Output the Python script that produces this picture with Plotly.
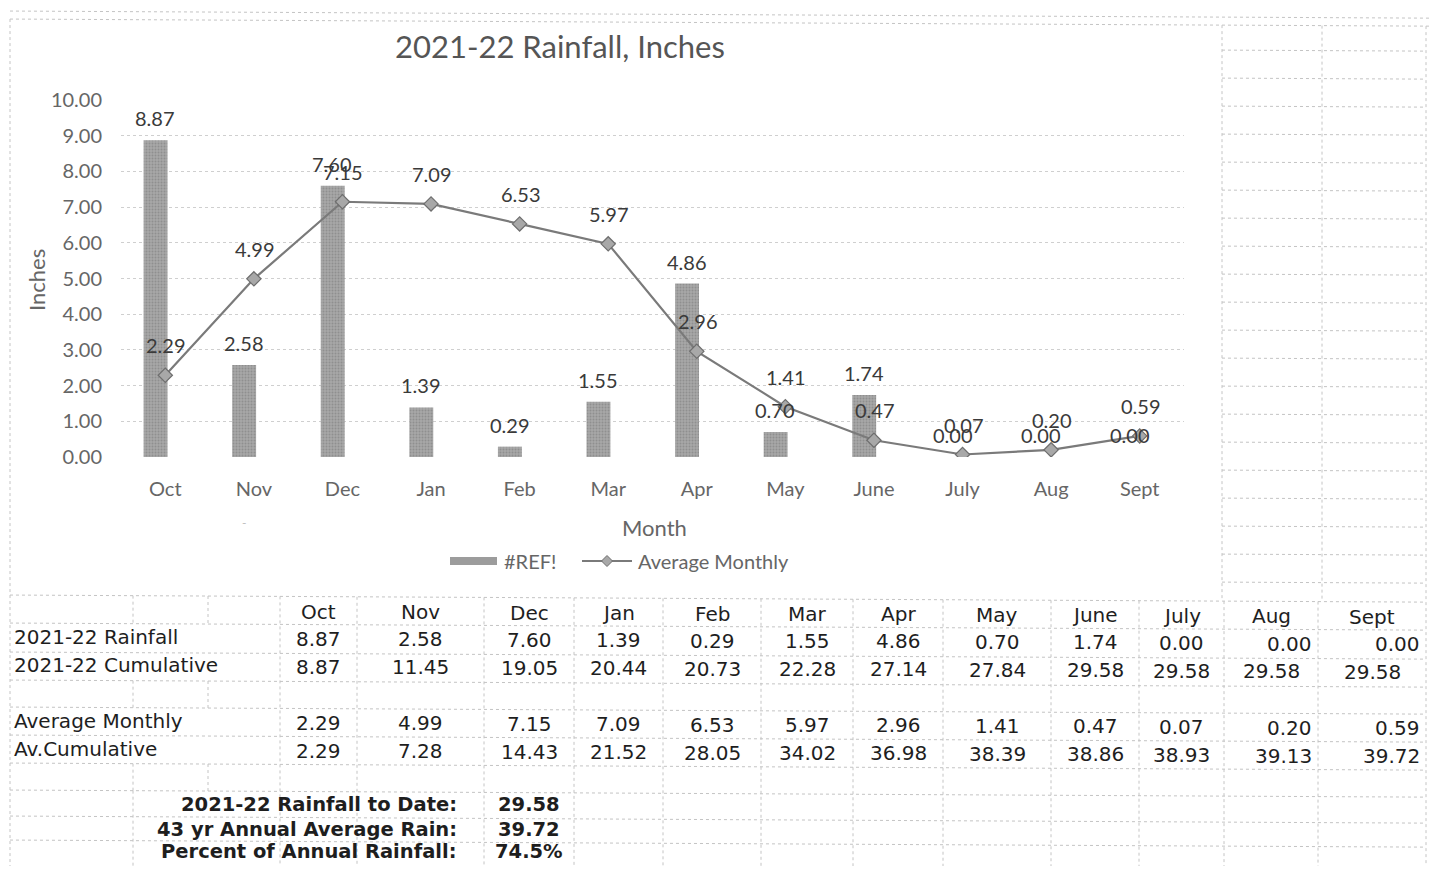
import plotly.graph_objects as go

# ---------------- data ----------------
months = ["Oct", "Nov", "Dec", "Jan", "Feb", "Mar", "Apr", "May", "June", "July", "Aug", "Sept"]
rain_2122 = [8.87, 2.58, 7.60, 1.39, 0.29, 1.55, 4.86, 0.70, 1.74, 0.00, 0.00, 0.00]
cum_2122 = [8.87, 11.45, 19.05, 20.44, 20.73, 22.28, 27.14, 27.84, 29.58, 29.58, 29.58, 29.58]
avg_monthly = [2.29, 4.99, 7.15, 7.09, 6.53, 5.97, 2.96, 1.41, 0.47, 0.07, 0.20, 0.59]
avg_cum = [2.29, 7.28, 14.43, 21.52, 28.05, 34.02, 36.98, 38.39, 38.86, 38.93, 39.13, 39.72]
y_ticks = [0, 1, 2, 3, 4, 5, 6, 7, 8, 9, 10]
row_labels = ["2021-22 Rainfall", "2021-22 Cumulative", "Average Monthly", "Av.Cumulative"]
summary_labels = ["2021-22 Rainfall to Date:", "43 yr Annual Average Rain:", "Percent of Annual Rainfall:"]
summary_values = ["29.58", "39.72", "74.5%"]

# ---------------- helpers ----------------
# page body has an 8px margin, so the figure is 16px smaller than the window
OFF = 8
W, H = 1439 - 2 * OFF, 874 - 2 * OFF
def px(x):
    return (x - OFF) / W
def py(y):
    return 1 - (y - OFF) / H
SKEW = 0.005  # scan tilt, px of drop per px across

CHART_FONT = "Lato"
TABLE_FONT = "DejaVu Sans"
GRID = "#c4c4c4"

fig = go.Figure()
fig.add_trace(go.Bar(
    x=months, y=rain_2122, name="#REF!",
    width=0.27, offset=-0.245,
    marker=dict(color="#9c9c9c", line=dict(width=0),
                pattern=dict(shape=".", fgcolor="#767676", bgcolor="#a8a8a8", size=3, solidity=0.35)),
    showlegend=False, hoverinfo="skip",
))
fig.add_trace(go.Scatter(
    x=months, y=avg_monthly, name="Average Monthly", mode="lines+markers",
    line=dict(color="#7a7a7a", width=2.2),
    marker=dict(symbol="diamond", size=11, color="#a8a8a8", line=dict(color="#6e6e6e", width=1.2)),
    showlegend=False, hoverinfo="skip",
))

ann = []
LBL = dict(family=CHART_FONT, size=20, color="#3a3a3a")
for m, v in zip(months, rain_2122):
    ann.append(dict(x=m, y=v, xref="x", yref="y", text=f"{v:.2f}", showarrow=False,
                    xanchor="center", yanchor="middle", xshift=-10, yshift=22, font=LBL))
for m, v in zip(months, avg_monthly):
    ann.append(dict(x=m, y=v, xref="x", yref="y", text=f"{v:.2f}", showarrow=False,
                    xanchor="center", yanchor="middle", xshift=1, yshift=30, font=LBL))

def pann(x, y, text, size, color, anchor="center", angle=0, family=CHART_FONT):
    ann.append(dict(x=px(x), y=py(y), xref="paper", yref="paper", text=text, showarrow=False,
                    xanchor=anchor, yanchor="middle", textangle=angle,
                    font=dict(family=family, size=size, color=color)))

pann(560, 46, "2021-22 Rainfall, Inches", 31, "#555555")
pann(654, 527, "Month", 22, "#666666")
pann(37, 280, "Inches", 22, "#666666", angle=-90)
pann(244, 522, "-", 12, "#bdbdbd")

# legend (drawn)
shapes = []
shapes.append(dict(type="rect", xref="paper", yref="paper", x0=px(450), x1=px(497), y0=py(565), y1=py(557),
                   fillcolor="#9c9c9c", line=dict(width=0)))
pann(502, 561, "#REF!", 20, "#666666", anchor="left")
shapes.append(dict(type="line", xref="paper", yref="paper", x0=px(582), x1=px(632), y0=py(561), y1=py(561),
                   line=dict(color="#7a7a7a", width=2)))
cx, cy, r = 607, 561, 5.5
shapes.append(dict(type="path", xref="paper", yref="paper",
                   path=f"M {px(cx)},{py(cy-r)} L {px(cx+r)},{py(cy)} L {px(cx)},{py(cy+r)} L {px(cx-r)},{py(cy)} Z",
                   fillcolor="#a8a8a8", line=dict(color="#6e6e6e", width=1)))
pann(636, 561, "Average Monthly", 20, "#666666", anchor="left")

# ---------------- spreadsheet grid ----------------
def hline(x0, x1, y):
    shapes.append(dict(type="line", xref="paper", yref="paper", x0=px(x0), x1=px(x1),
                       y0=py(y + SKEW * x0), y1=py(y + SKEW * x1),
                       line=dict(color=GRID, width=1, dash="dot")))
def vline(x, y0, y1):
    shapes.append(dict(type="line", xref="paper", yref="paper", x0=px(x), x1=px(x),
                       y0=py(y0 + SKEW * x), y1=py(y1 + SKEW * x),
                       line=dict(color=GRID, width=1, dash="dot")))

hline(10, 1439, 11)
hline(10, 1439, 19)
vline(10, 19, 874)
vline(1222, 19, 595)
for k in range(20):
    hline(1222, 1426, 44 + 28 * k)
vline(1322, 19, 595)
vline(1426, 19, 595)

col_edges = [280, 357, 484, 574, 663, 761, 853, 943, 1051, 1139, 1224, 1318, 1426]
row_edges = [595, 623, 652, 680, 707, 735, 763, 790, 816, 840]
for y in row_edges:
    hline(10, 1426, y)
for x in col_edges:
    vline(x, 595, 874)
for x in [133, 208]:
    vline(x, 595, 623)
    vline(x, 680, 707)
    vline(x, 763, 790)
vline(133, 790, 874)

# ---------------- table text ----------------
col_centers = [(a + b) / 2 for a, b in zip(col_edges[:-1], col_edges[1:])]
def cell(x, y, text, anchor="center", bold=False, size=20):
    ann.append(dict(x=px(x), y=py(y + SKEW * x), xref="paper", yref="paper",
                    text=f"<b>{text}</b>" if bold else text,
                    xanchor=anchor, yanchor="middle", showarrow=False,
                    font=dict(family=TABLE_FONT, size=size, color="#1e1e1e")))

for c, m in zip(col_centers, months):
    cell(c, 610, m)
row_y = [637, 665, 721, 749]
rows = [rain_2122, cum_2122, avg_monthly, avg_cum]
right_aligned = [{10, 11}, set(), {10, 11}, {10, 11}]
for lab, yy, vals, ra in zip(row_labels, row_y, rows, right_aligned):
    cell(12, yy, lab, anchor="left")
    for i, v in enumerate(vals):
        if i in ra:
            cell(col_edges[i + 1] - 4, yy, f"{v:.2f}", anchor="right")
        else:
            cell(col_centers[i], yy, f"{v:.2f}")
for lab, val, yy in zip(summary_labels, summary_values, [802, 827, 849]):
    cell(459, yy, lab, anchor="right", bold=True, size=19.5)
    cell(529, yy, val, bold=True, size=19.5)

fig.update_layout(
    width=W, height=H, margin=dict(l=0, r=0, t=0, b=0),
    paper_bgcolor="white", plot_bgcolor="white",
    annotations=ann, shapes=shapes,
    xaxis=dict(domain=[px(121), px(1184)], range=[-0.5, 11.5], type="category",
               showgrid=False, showline=False, zeroline=False, automargin=False,
               ticks="", ticklabelstandoff=18,
               tickfont=dict(family=CHART_FONT, size=20, color="#666666")),
    yaxis=dict(domain=[py(457), py(100)], range=[0, 10], tickvals=y_ticks, tickformat=".2f",
               showgrid=True, gridcolor="#cfcfcf", griddash="dot", gridwidth=1, automargin=False,
               zeroline=False, showline=False, ticks="", ticklabelstandoff=18,
               tickfont=dict(family=CHART_FONT, size=20, color="#666666")),
)

fig.write_html("out.html")
